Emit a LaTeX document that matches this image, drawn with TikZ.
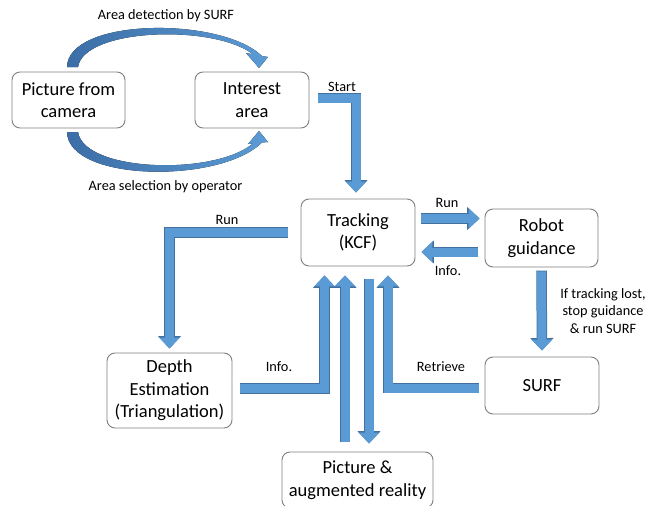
\documentclass[tikz,border=0pt]{standalone}
\usepackage{fontspec}
\setmainfont{Carlito}
\usetikzlibrary{arrows.meta,positioning}
\definecolor{arrowfill}{HTML}{5B9BD5}
\definecolor{arrowline}{HTML}{41719C}
\definecolor{arcdark}{HTML}{3C6DA6}
\definecolor{boxline}{HTML}{7F7F7F}

\begin{document}
\begin{tikzpicture}[x=1pt,y=-1pt,
    box/.style={draw=boxline, line width=0.9pt, rounded corners=8pt, fill=white,
      align=center, inner sep=0pt, font=\fontsize{18.5}{22.5}\selectfont},
    lbl/.style={align=center, inner sep=0pt, font=\fontsize{14.3}{17.5}\selectfont},
    blockarrow/.style={draw=arrowfill, line width=9pt, -{Triangle[width=20pt,length=11pt]},
      preaction={draw=arrowline, line width=10.5pt, shorten <=-0.75pt,
        -{Triangle[width=22.5pt,length=12.5pt]}}}]
    \useasboundingbox (0,0) rectangle (649,506);
    \clip (0,0) rectangle (649,506);

    \node[box, minimum width=113pt, minimum height=56pt] (camera) at (68.5,100) {Picture from\\camera};
    \node[box, minimum width=114pt, minimum height=56pt] (interest) at (252,100) {Interest\\area};
    \node[box, minimum width=114pt, minimum height=67pt] (tracking) at (358,232.5) {Tracking\\(KCF)};
    \node[box, minimum width=113pt, minimum height=58pt] (robot) at (541.5,238) {Robot\\guidance};
    \node[box, minimum width=114pt, minimum height=57pt] (surf) at (542,385.5) {SURF};
    \node[box, minimum width=125pt, minimum height=75pt] (depth) at (169.5,390.5) {Depth\\Estimation\\(Triangulation)};
    \node[box, minimum width=151pt, minimum height=56pt] (picture) at (357.5,480) {Picture \&\\augmented reality};

    % curved arrows between the camera and the interest area
    \fill[left color=arcdark, right color=arrowfill]
      (67,67) .. controls (68,18) and (220,16) .. (262,56) -- (268,57) -- (259,68) -- (246,53)
      -- (253,54.3) .. controls (214,24) and (84,28) .. (78,67) -- cycle;
    \fill[left color=arcdark, right color=arrowfill]
      (67,132) .. controls (68,182) and (220,184) .. (262,142.5) -- (268,142) -- (259,131) -- (248,144)
      -- (253,143.5) .. controls (214,176) and (84,172) .. (78,132) -- cycle;

    \draw[blockarrow] ([xshift=9pt,yshift=2pt]interest.east) -| ([xshift=-2pt,yshift=6pt]tracking.north);
    \draw[blockarrow] ([xshift=6pt,yshift=14pt]tracking.east) -- ([xshift=-5pt,yshift=19.5pt]robot.west);
    \draw[blockarrow] ([xshift=-7pt,yshift=-14pt]robot.west) -- ([xshift=6pt,yshift=-19.5pt]tracking.east);
    \draw[blockarrow] ([yshift=-4pt]robot.south) -- ([yshift=6pt]surf.north);
    \draw[blockarrow] ([xshift=-13pt]tracking.west) -| ([yshift=4pt]depth.north);
    \draw[blockarrow] ([xshift=8pt,yshift=2pt]depth.east) -| ([xshift=-33.5pt,yshift=-9pt]tracking.south);
    \draw[blockarrow] ([xshift=-12.5pt,yshift=10pt]picture.north) -- ([xshift=-13pt,yshift=-9pt]tracking.south);
    \draw[blockarrow] ([xshift=11pt,yshift=-13pt]tracking.south) -- ([xshift=11.5pt,yshift=8pt]picture.north);
    \draw[blockarrow] ([xshift=-6pt,yshift=-2.5pt]surf.west) -| ([xshift=30pt,yshift=-9pt]tracking.south);

    \node[lbl] (detectlbl) at (166,16) {Area detection by SURF};
    \node[lbl] (selectlbl) at (165.5,187) {Area selection by operator};
    \node[lbl] (startlbl) at (342,87) {Start};
    \node[lbl] (runlbl) at (447,203) {Run};
    \node[lbl] (infolbl) at (448,271) {Info.};
    \node[lbl] (lostlbl) at (603,311) {If tracking lost,\\stop guidance\\\& run SURF};
    \node[lbl] (runleftlbl) at (227,220) {Run};
    \node[lbl] (infoleftlbl) at (279,367) {Info.};
    \node[lbl] (retrievelbl) at (441,367) {Retrieve};
  \end{tikzpicture}
\end{document}
